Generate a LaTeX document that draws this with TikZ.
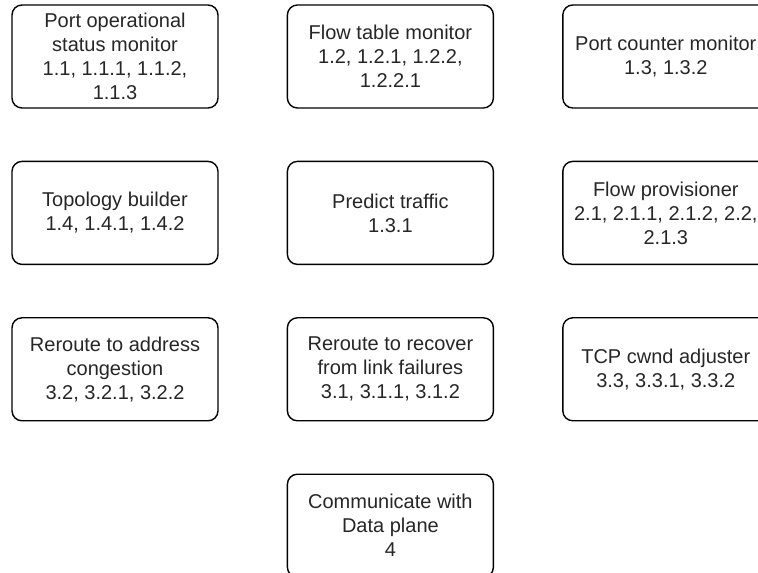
\documentclass[tikz,border=0pt]{standalone}
\usepackage{fontspec}
\setmainfont{Liberation Sans}
\usetikzlibrary{positioning}
\begin{document}
\begin{tikzpicture}[
		node distance=26pt and 34pt,
		block/.style={rectangle,draw,rounded corners=5pt,line width=0.7pt,
				minimum width=103pt,minimum height=51.5pt,inner sep=2pt,
				align=center,text=black!85,font=\fontsize{10}{12}\selectfont}
	]
	\useasboundingbox (0,0) rectangle (379pt,286pt);
	\clip (0,0) rectangle (379pt,286pt);
	% row 1
	\node[block] (portstatus) at (57.5pt,257.75pt) {Port operational\\status monitor\\1.1, 1.1.1, 1.1.2,\\1.1.3};
	\node[block,right=of portstatus] (flowtable) {Flow table monitor\\1.2, 1.2.1, 1.2.2,\\1.2.2.1};
	\node[block,right=of flowtable] (portcounter) {Port counter monitor\\1.3, 1.3.2};
	% row 2
	\node[block,below=of portstatus] (topology) {Topology builder\\1.4, 1.4.1, 1.4.2};
	\node[block,below=of flowtable] (predict) {Predict traffic\\1.3.1};
	\node[block,below=of portcounter] (provisioner) {Flow provisioner\\2.1, 2.1.1, 2.1.2, 2.2,\\2.1.3};
	% row 3
	\node[block,below=of topology] (congestion) {Reroute to address\\congestion\\3.2, 3.2.1, 3.2.2};
	\node[block,below=of predict] (linkfail) {Reroute to recover\\from link failures\\3.1, 3.1.1, 3.1.2};
	\node[block,below=of provisioner] (cwnd) {TCP cwnd adjuster\\3.3, 3.3.1, 3.3.2};
	% row 4
	\node[block,below=of linkfail] (dataplane) {Communicate with\\Data plane\\4};
\end{tikzpicture}
\end{document}
